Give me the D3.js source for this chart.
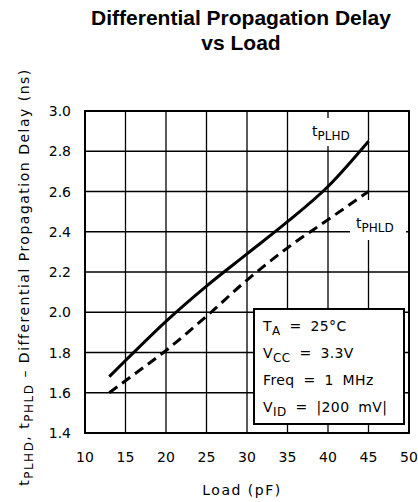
<!DOCTYPE html>
<html>
<head>
<meta charset="utf-8">
<script src="https://cdn.jsdelivr.net/npm/d3@7"></script>
<style>
  body { margin: 0; background: #fff; }
  #viz { width: 418px; height: 502px; }
  text { font-family: "DejaVu Sans", sans-serif; fill: #000; }
</style>
</head>
<body>
<div id="viz"></div>
<script>
// -----------------------------
// DATA
// -----------------------------
const loads = [13, 15, 20, 25, 30, 35, 40, 45];
const tPLHD = [1.68, 1.76, 1.955, 2.13, 2.29, 2.45, 2.625, 2.85];
const tPHLD = [1.60, 1.66, 1.81, 1.98, 2.16, 2.32, 2.46, 2.60];

const xTicks = [10, 15, 20, 25, 30, 35, 40, 45, 50];
const yTicks = [1.4, 1.6, 1.8, 2.0, 2.2, 2.4, 2.6, 2.8, 3.0];
const yTickLabels = ["1.4", "1.6", "1.8", "2.0", "2.2", "2.4", "2.6", "2.8", "3.0"];

const titleLines = ["Differential Propagation Delay", "vs Load"];
const conditions = [
  { main: "T", sub: "A", rest: " = 25\u00B0C" },
  { main: "V", sub: "CC", rest: " = 3.3V" },
  { main: "Freq = 1 MHz", sub: "", rest: "" },
  { main: "V", sub: "ID", rest: " = |200 mV|" }
];

const width = 418, height = 502;
const margin = { left: 85, top: 111, right: 9, bottom: 69 };

const svg = d3.select("#viz")
  .append("svg")
  .attr("width", width)
  .attr("height", height);

const x = d3.scaleLinear().domain([10, 50]).range([margin.left, width - margin.right]);
const y = d3.scaleLinear().domain([1.4, 3.0]).range([height - margin.bottom, margin.top]);

// -----------------------------
// TITLE
// -----------------------------
svg.selectAll("text.title")
  .data(titleLines)
  .join("text")
  .attr("class", "title")
  .attr("x", 241)
  .attr("y", (d, i) => 25 + i * 25)
  .attr("text-anchor", "middle")
  .style("font-family", "'Liberation Sans', Arial, sans-serif")
  .style("font-weight", "bold")
  .style("font-size", "21px")
  .text(d => d);

// -----------------------------
// GRID
// -----------------------------
const grid = svg.append("g");
grid.selectAll("line.vx")
  .data(xTicks)
  .join("line")
  .attr("x1", d => x(d)).attr("x2", d => x(d))
  .attr("y1", y(3.0)).attr("y2", y(1.4))
  .attr("stroke", "#000").attr("stroke-width", 1.3);
grid.selectAll("line.hy")
  .data(yTicks)
  .join("line")
  .attr("x1", x(10)).attr("x2", x(50))
  .attr("y1", d => y(d)).attr("y2", d => y(d))
  .attr("stroke", "#000").attr("stroke-width", 1.3);

svg.append("rect")
  .attr("x", x(10)).attr("y", y(3.0))
  .attr("width", x(50) - x(10)).attr("height", y(1.4) - y(3.0))
  .attr("fill", "none").attr("stroke", "#000").attr("stroke-width", 2);

// -----------------------------
// AXIS LABELS
// -----------------------------
svg.selectAll("text.ytick")
  .data(yTicks)
  .join("text")
  .attr("class", "ytick")
  .attr("x", 71)
  .attr("y", d => y(d))
  .attr("dy", "0.36em")
  .attr("text-anchor", "end")
  .style("font-size", "14px")
  .text((d, i) => yTickLabels[i]);

svg.selectAll("text.xtick")
  .data(xTicks)
  .join("text")
  .attr("class", "xtick")
  .attr("x", d => x(d))
  .attr("y", 462)
  .attr("text-anchor", "middle")
  .style("font-size", "14px")
  .text(d => d);

svg.append("text")
  .attr("x", 242).attr("y", 495)
  .attr("text-anchor", "middle")
  .style("font-size", "14px")
  .style("letter-spacing", "1.5px")
  .text("Load (pF)");

const yl = svg.append("text")
  .attr("transform", `translate(29,277) rotate(-90)`)
  .attr("text-anchor", "middle")
  .style("font-size", "14px")
  .style("letter-spacing", "1.5px");
yl.append("tspan").text("t");
yl.append("tspan").attr("dy", 4).style("font-size", "12px").text("PLHD");
yl.append("tspan").attr("dy", -4).text(", t");
yl.append("tspan").attr("dy", 4).style("font-size", "12px").text("PHLD");
yl.append("tspan").attr("dy", -4).text(" \u2013 Differential Propagation Delay (ns)");

// -----------------------------
// CONDITIONS BOX
// -----------------------------
svg.append("rect")
  .attr("x", 254).attr("y", 309).attr("width", 150).attr("height", 115)
  .attr("fill", "#fff").attr("stroke", "#000").attr("stroke-width", 2);

conditions.forEach((c, i) => {
  const t = svg.append("text")
    .attr("x", 263).attr("y", 331 + i * 27)
    .style("font-size", "14px")
    .style("letter-spacing", "0.4px")
    .style("word-spacing", "4px");
  t.append("tspan").text(c.main);
  if (c.sub) {
    t.append("tspan").attr("dy", 4).style("font-size", "12px").text(c.sub);
    t.append("tspan").attr("dy", -4).text(c.rest);
  }
});

// -----------------------------
// CURVE LABEL BACKGROUNDS
// -----------------------------
svg.append("rect").attr("x", 308).attr("y", 118).attr("width", 48).attr("height", 28).attr("fill", "#fff");
svg.append("rect").attr("x", 350).attr("y", 200).attr("width", 56).attr("height", 40).attr("fill", "#fff");

// -----------------------------
// CURVES
// -----------------------------
const line = d3.line()
  .x(d => x(d[0]))
  .y(d => y(d[1]))
  .curve(d3.curveMonotoneX);

svg.append("path")
  .attr("d", line(loads.map((l, i) => [l, tPLHD[i]])))
  .attr("fill", "none").attr("stroke", "#000").attr("stroke-width", 3);

svg.append("path")
  .attr("d", line(loads.map((l, i) => [l, tPHLD[i]])))
  .attr("fill", "none").attr("stroke", "#000").attr("stroke-width", 3)
  .attr("stroke-dasharray", "10,6");

const l1 = svg.append("text").attr("x", 312).attr("y", 136).style("font-size", "14px");
l1.append("tspan").text("t");
l1.append("tspan").attr("dy", 4).style("font-size", "12px").text("PLHD");

const l2 = svg.append("text").attr("x", 356).attr("y", 228).style("font-size", "14px");
l2.append("tspan").text("t");
l2.append("tspan").attr("dy", 4).style("font-size", "12px").text("PHLD");
</script>
</body>
</html>
